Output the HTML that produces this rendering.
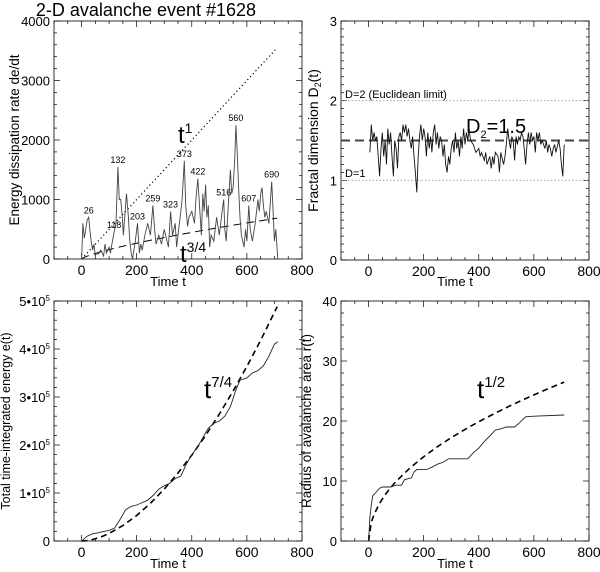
<!DOCTYPE html>
<html><head><meta charset="utf-8"><style>
html,body{margin:0;padding:0;background:#fff;}
svg{display:block;font-family:"Liberation Sans",sans-serif;}
</style></head><body>
<svg id="s" width="600" height="572" viewBox="0 0 600 572"></svg>
<script>
// ---- data ----
const ratesT=[0,5,10,15,20,26,30,35,40,45,50,55,60,70,80,85,90,100,105,110,118,125,132,137,142,148,152,158,163,170,175,180,185,190,195,203,210,215,220,230,240,250,259,265,270,280,290,300,310,315,323,330,340,345,350,360,365,373,378,385,390,400,410,415,422,428,435,440,445,450,455,460,465,470,480,490,500,510,516,520,525,530,540,545,550,556,560,565,570,575,580,590,595,600,607,612,620,630,640,645,650,655,660,665,670,680,690,695,700,705,712];
const ratesV=[0,600,350,500,650,700,500,300,150,250,50,100,80,150,50,250,100,200,100,250,450,600,1550,1000,1000,700,400,800,1100,700,300,100,0,150,300,600,100,250,150,400,600,400,900,500,250,400,250,500,300,200,800,400,600,200,400,800,1000,1650,900,550,700,800,600,1000,1350,900,400,1100,800,1250,700,900,200,400,300,700,400,800,1000,500,300,700,1500,1100,1200,1700,2250,1800,1200,700,400,200,500,300,900,500,300,600,1000,800,1100,1200,900,700,800,600,1300,800,300,500,0];
const peakLabels=["26","118","132","203","259","323","373","422","516","560","607","690"];
const peakT=[26,118,132,203,259,323,373,422,516,560,607,690];
const peakV=[700,450,1550,600,900,800,1650,1350,1000,2250,900,1300];
const d2T=[5,10,15,20,25,30,35,40,45,50,55,60,65,70,75,80,85,90,95,100,105,110,115,120,125,130,135,140,145,150,155,160,165,170,175,180,185,190,195,200,205,210,215,220,225,230,235,240,245,250,255,260,265,270,275,280,285,290,295,300,305,310,315,320,325,330,335,340,345,350,355,360,365,370,380,385,390,400,405,410,420,425,430,440,445,450,455,460,470,475,480,490,495,500,505,510,515,520,525,530,535,540,545,550,555,560,565,570,575,580,585,590,595,600,605,610,615,620,625,630,640,645,650,655,660,665,670,675,680,690,695,700,705,710];
const d2V=[1.35,1.7,1.5,1.6,1.5,1.55,1.3,1.05,1.4,1.6,1.3,1.5,1.2,1.65,1.45,1.6,1.3,1.05,1.5,1.4,1.15,1.55,1.6,1.5,1.7,1.6,1.7,1.55,1.65,1.5,1.4,1.55,1.3,1.1,0.85,1.3,1.55,1.7,1.5,1.65,1.55,1.3,1.6,1.4,1.55,1.35,1.6,1.7,1.45,1.6,1.4,1.55,1.5,1.3,1.45,1.2,1.1,1.3,1.2,1.4,1.5,1.35,1.6,1.4,1.5,1.3,1.55,1.4,1.65,1.45,1.6,1.5,1.65,1.5,1.45,1.4,1.35,1.4,1.3,1.35,1.25,1.35,1.2,1.3,1.15,1.3,1.2,1.35,1.3,1.1,1.35,1.2,1.3,1.45,1.65,1.5,1.4,1.55,1.5,1.25,1.55,1.45,1.55,1.5,1.6,1.55,1.4,1.2,1.45,1.6,1.45,1.6,1.5,1.55,1.35,1.6,1.5,1.6,1.45,1.5,1.4,1.5,1.35,1.45,1.4,1.3,1.4,1.45,1.35,1.5,1.4,1.2,1.05,1.45];
const eT=[0,20,40,60,80,100,120,140,160,180,200,220,240,260,280,300,320,340,360,380,400,420,440,460,480,500,520,540,560,575,600,620,640,660,680,700,712];
const eV=[0,0.1,0.15,0.17,0.2,0.22,0.27,0.45,0.65,0.72,0.75,0.8,0.85,0.95,1.08,1.15,1.2,1.3,1.35,1.6,1.8,1.95,2.15,2.35,2.45,2.5,2.6,2.8,3.15,3.35,3.4,3.5,3.55,3.65,3.85,4.1,4.15];
const rT=[0,5,10,15,25,40,50,80,100,120,130,145,155,165,175,210,230,250,270,290,360,380,400,420,440,460,480,500,530,550,570,600,710];
const rV=[0,4,6,7.5,8,8.8,9,9,9.3,9.3,10.2,10.4,10.5,11.5,11.9,11.9,12.3,12.8,13.1,13.7,13.7,14.7,15.5,16.6,17.5,18.5,18.7,19,19,19.8,20.7,20.8,21];
const fitT=[0,10,20,40,60,80,100,150,200,250,300,350,400,450,500,550,600,650,710];

// ---- helpers ----
const NS="http://www.w3.org/2000/svg";
const svg=document.getElementById('s');
function mk(tag,attrs,parent){const e=document.createElementNS(NS,tag);for(const k in attrs)e.setAttribute(k,attrs[k]);(parent||svg).appendChild(e);return e;}
function panel(name,L,R,T,B,ymax,ymaj,ymin,ylabFn,xtitleY,ytitle,ytitleX,ytitleSize){
  const g=mk('g',{});
  
  
  const sx=v=>L+(v+100)/900*(R-L), sy=v=>B-v/ymax*(B-T);
  const box=mk('rect',{x:L,y:T,width:R-L,height:B-T,fill:'none',stroke:'#000','stroke-width':0.8},g);
  
  const ax=mk('g',{stroke:'#000','stroke-width':0.7},g);
  
  for(let v=-100;v<=800;v+=50){const x=sx(v);const len=(v%200===0)?6:3;
    mk('line',{x1:x,y1:B,x2:x,y2:B-len},ax);mk('line',{x1:x,y1:T,x2:x,y2:T+len},ax);}
  for(let i=0;i*ymin<=ymax+1e-9;i++){const v=i*ymin;const y=sy(v);const maj=Math.abs(v/ymaj-Math.round(v/ymaj))<1e-6;const len=maj?6:3;
    mk('line',{x1:L,y1:y,x2:L+len,y2:y},ax);mk('line',{x1:R,y1:y,x2:R-len,y2:y},ax);}
  for(let v=0;v<=800;v+=200){const t=mk('text',{x:sx(v),y:B+16,'font-size':14,'text-anchor':'middle'},g);t.textContent=v;
    }
  for(let i=0;i*ymaj<=ymax+1e-9;i++){const t=mk('text',{x:L-4,y:sy(i*ymaj)+5,'font-size':13,'text-anchor':'end'},g);ylabFn(t,i);
    }
  const xt=mk('text',{x:(L+R)/2-10,y:xtitleY,'font-size':13,'text-anchor':'middle'},g);xt.textContent='Time t';
  
  const yt=mk('text',{x:0,y:0,'font-size':ytitleSize,'text-anchor':'middle',transform:`translate(${ytitleX},${(T+B)/2}) rotate(-90)`},g);yt.innerHTML=ytitle;
  
  return {g,sx,sy};
}
function poly(p,ts,vs,attrs,name){const pts=ts.map((t,i)=>p.sx(t).toFixed(1)+','+p.sy(vs[i]).toFixed(1)).join(' ');
  const e=mk('polyline',Object.assign({points:pts,fill:'none'},attrs),p.g);
  
  return e;}
function txt(p,x,y,size,html,name,extra){const t=mk('text',Object.assign({x:x,y:y,'font-size':size},extra||{}),p.g);t.innerHTML=html;
  
  return t;}

// ---- title ----
const title=mk('text',{x:146,y:16,'font-size':18,'text-anchor':'middle'});
title.textContent='2-D avalanche event #1628';



// ---- panel 1 ----
const p1=panel('energy-rate-panel',54,302,21,259,4000,1000,200,(t,i)=>t.textContent=i*1000,286,'Energy dissipation rate  de/dt',19,13.5);
poly(p1,fitT,fitT.map(t=>5*t),{stroke:'#000','stroke-width':1.2,'stroke-dasharray':'1.2,2.8'},'t1-fit-line');
poly(p1,fitT,fitT.map(t=>5*Math.pow(t,0.75)),{stroke:'#000','stroke-width':1,'stroke-dasharray':'8,5'},'t34-fit-line');
poly(p1,ratesT,ratesV,{stroke:'#444','stroke-width':0.9},'energy-rate-series');
peakLabels.forEach((s,i)=>{txt(p1,p1.sx(peakT[i]),p1.sy(peakV[i])-4,9,s,'peak-label',{'text-anchor':'middle'});});
txt(p1,178,143,24,'t<tspan font-size="14" dy="-10">1</tspan>','t1-annotation');
txt(p1,180,262,24,'t<tspan font-size="14" dy="-10">3/4</tspan>','t34-annotation');

// ---- panel 2 ----
const p2=panel('fractal-dimension-panel',341,589,21,260,3,1,0.1,(t,i)=>t.textContent=i,286,'Fractal dimension D<tspan font-size="9" dy="3">2</tspan><tspan dy="-3">(t)</tspan>',318,14);
[1,2].forEach(d=>{const l=mk('line',{x1:341,x2:589,y1:p2.sy(d),y2:p2.sy(d),stroke:'#999','stroke-width':0.8,'stroke-dasharray':'1.5,2'},p2.g);
  });
const l15=mk('line',{x1:341,x2:589,y1:p2.sy(1.5),y2:p2.sy(1.5),stroke:'#444','stroke-width':2,'stroke-dasharray':'9,5'},p2.g);

poly(p2,d2T,d2V,{stroke:'#111','stroke-width':0.9},'fractal-dimension-series');
txt(p2,345,98,11,'D=2 (Euclidean limit)','d2-label');
txt(p2,345,177,11,'D=1','d1-label');
txt(p2,466,133,20,'D<tspan font-size="11" dy="5">2</tspan><tspan dy="-5">=1.5</tspan>','d2-value-annotation');

// ---- panel 3 ----
const p3=panel('total-energy-panel',54,302,301,541,5,1,0.2,(t,i)=>{if(i===0)t.textContent='0';else t.innerHTML=i+'•10<tspan font-size="8" dy="-5">5</tspan>';},568,'Total time-integrated energy  e(t)',10,12.5);
poly(p3,fitT,fitT.map(t=>5.0*Math.pow(t,1.75)/1e5),{stroke:'#000','stroke-width':1.6,'stroke-dasharray':'6,4'},'t74-fit-line');
poly(p3,eT,eV,{stroke:'#222','stroke-width':0.9},'total-energy-series');
txt(p3,204,398,26,'t<tspan font-size="15" dy="-11">7/4</tspan>','t74-annotation');

// ---- panel 4 ----
const p4=panel('radius-panel',341,589,301,541,40,10,2,(t,i)=>t.textContent=i*10,568,'Radius of avalanche area  r(t)',311,13.5);
poly(p4,fitT,fitT.map(t=>0.994*Math.sqrt(t)),{stroke:'#000','stroke-width':1.6,'stroke-dasharray':'6,4'},'t12-fit-line');
poly(p4,rT,rV,{stroke:'#222','stroke-width':0.9},'radius-series');
txt(p4,477,398,26,'t<tspan font-size="15" dy="-11">1/2</tspan>','t12-annotation');
</script>
</body></html>
